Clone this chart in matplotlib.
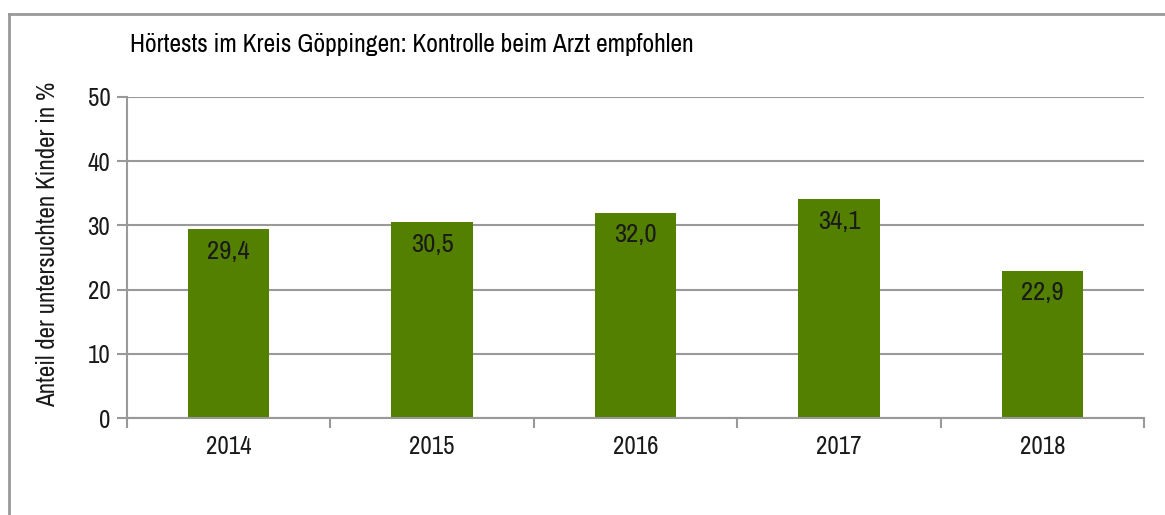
import matplotlib
matplotlib.use("Agg")
import matplotlib.pyplot as plt
from matplotlib.lines import Line2D

years = ["2014", "2015", "2016", "2017", "2018"]
values = [29.4, 30.5, 32.0, 34.1, 22.9]
value_labels = ["29,4", "30,5", "32,0", "34,1", "22,9"]
yticks = [0, 10, 20, 30, 40, 50]
title = "Hörtests im Kreis Göppingen: Kontrolle beim Arzt empfohlen"
ylabel = "Anteil der untersuchten Kinder in %"

plt.rcParams["font.family"] = ["Archivo Narrow", "Roboto Condensed", "DejaVu Sans"]

W, H = 1165, 515
fig = plt.figure(figsize=(W / 100, H / 100), dpi=100)
renderer = fig.canvas.get_renderer()


def fit_size(s, target_px, base=10):
    t = fig.text(0, 0, s, fontsize=base)
    w = t.get_window_extent(renderer).width
    t.remove()
    return base * target_px / w


tick_fs = fit_size("2014", 45)
val_fs = fit_size("29,4", 42)
title_fs = fit_size(title, 567)
ylab_fs = fit_size(ylabel, 328)

ax = fig.add_axes([127 / W, 1 - 418 / H, (1144 - 127) / W, (418 - 97) / H])

grey = "#999999"
txtc = "#1a1a1a"
x = list(range(len(years)))
ax.bar(x, values, width=0.4, color="#548000", zorder=3)
for xi, v, lab in zip(x, values, value_labels):
    ax.annotate(lab, (xi, v), xytext=(0, -22), textcoords="offset pixels",
                ha="center", va="center", fontsize=val_fs, color=txtc, zorder=4)

ax.set_xlim(-0.5, len(years) - 0.5)
ax.set_ylim(0, 50)
ax.set_yticks(yticks)
ax.set_yticklabels([str(t) for t in yticks], fontsize=tick_fs, color=txtc)
ax.set_xticks(x)
ax.set_xticklabels(years, fontsize=tick_fs, color=txtc)
ax.set_xticks([i - 0.5 for i in range(len(years) + 1)], minor=True)
ax.tick_params(axis="x", which="major", length=0, pad=12)
ax.tick_params(axis="x", which="minor", length=7, width=1.5, color=grey, direction="out")
ax.tick_params(axis="y", length=7, width=1.5, color=grey, direction="out", pad=5)
ax.grid(axis="y", color=grey, linewidth=1.5, zorder=0)
for s in ["top", "right"]:
    ax.spines[s].set_visible(False)
for s in ["left", "bottom"]:
    ax.spines[s].set_color(grey)
    ax.spines[s].set_linewidth(1.5)
ax.spines["bottom"].set_zorder(5)

ax.set_ylabel(ylabel, fontsize=ylab_fs, color=txtc, va="center")
ax.yaxis.set_label_coords(48 / W, 1 - 244 / H, transform=fig.transFigure)

fig.text(130 / W, 1 - 45 / H, title, fontsize=title_fs, color="black", ha="left", va="center")

# outer frame
fig.add_artist(Line2D([8.5 / W, 8.5 / W], [0, 1 - 14 / H], color=grey, linewidth=2, transform=fig.transFigure))
fig.add_artist(Line2D([8.5 / W, 1.0], [1 - 14 / H, 1 - 14 / H], color=grey, linewidth=2, transform=fig.transFigure))

fig.savefig("out.png", dpi=100)
